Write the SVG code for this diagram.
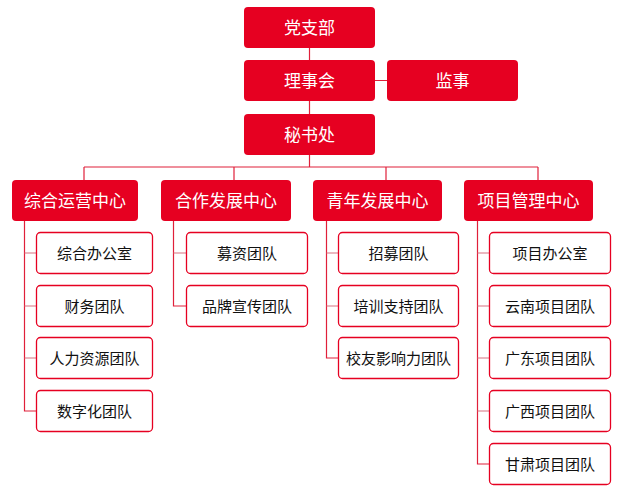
<svg xmlns="http://www.w3.org/2000/svg" width="621" height="496" viewBox="0 0 621 496">
<style>
.top{fill:#e60021}
.t{font-family:"Noto Sans CJK SC","Noto Sans",sans-serif;text-anchor:middle;dominant-baseline:central}
.tw{fill:#fff;font-size:17px}
.tb{fill:#111;font-size:15px}
.child{fill:#fff;stroke:#e60021;stroke-width:1.3}
.ln{stroke:#e0203a;stroke-width:1.2;fill:none}
.br{stroke:#d87080;stroke-width:1.2;fill:none}
</style>
<rect width="621" height="496" fill="#fff"/>
<g id="connectors">
<path class="ln" d="M309.5 48V60M309.5 101V114M309.5 155V167M375 80.5H387M84 167H538M84 167V180M234 167V180M386 167V180M538 167V180"/>
<path class="ln" d="M24.5 221V411H36M173.5 221V306H186M326.5 221V358H338M477.5 221V464H489"/>
<path class="br" d="M24.5 253H36M24.5 306H36M24.5 358H36M173.5 253H186M326.5 253H338M326.5 306H338M477.5 253H489M477.5 306H489M477.5 358H489M477.5 411H489"/>
</g>
<g id="n-dangzhibu"><rect class="top" x="244" y="7" width="131" height="41" rx="4"/><text class="t tw" x="309.5" y="26.5">党支部</text></g>
<g id="n-lishihui"><rect class="top" x="244" y="60" width="131" height="41" rx="4"/><text class="t tw" x="309.5" y="79.5">理事会</text></g>
<g id="n-jianshi"><rect class="top" x="387" y="60" width="131" height="41" rx="4"/><text class="t tw" x="452.5" y="79.5">监事</text></g>
<g id="n-mishuchu"><rect class="top" x="244" y="114" width="131" height="41" rx="4"/><text class="t tw" x="309.5" y="133.5">秘书处</text></g>
<g id="n-zonghe"><rect class="top" x="12" y="180" width="126" height="41" rx="4"/><text class="t tw" x="75" y="199.5">综合运营中心</text></g>
<g id="n-hezuo"><rect class="top" x="161" y="180" width="130" height="41" rx="4"/><text class="t tw" x="226" y="199.5">合作发展中心</text></g>
<g id="n-qingnian"><rect class="top" x="313" y="180" width="129" height="41" rx="4"/><text class="t tw" x="377.5" y="199.5">青年发展中心</text></g>
<g id="n-xiangmu"><rect class="top" x="464" y="180" width="129" height="41" rx="4"/><text class="t tw" x="528.5" y="199.5">项目管理中心</text></g>
<g id="c1"><rect class="child" x="36.5" y="232.5" width="116" height="41" rx="4"/><text class="t tb" x="94.5" y="252">综合办公室</text></g>
<g id="c2"><rect class="child" x="36.5" y="285.5" width="116" height="41" rx="4"/><text class="t tb" x="94.5" y="305">财务团队</text></g>
<g id="c3"><rect class="child" x="36.5" y="337.5" width="116" height="41" rx="4"/><text class="t tb" x="94.5" y="357">人力资源团队</text></g>
<g id="c4"><rect class="child" x="36.5" y="390.5" width="116" height="41" rx="4"/><text class="t tb" x="94.5" y="410">数字化团队</text></g>
<g id="c5"><rect class="child" x="186.5" y="232.5" width="121" height="41" rx="4"/><text class="t tb" x="247" y="252">募资团队</text></g>
<g id="c6"><rect class="child" x="186.5" y="285.5" width="121" height="41" rx="4"/><text class="t tb" x="247" y="305">品牌宣传团队</text></g>
<g id="c7"><rect class="child" x="338.5" y="232.5" width="120" height="41" rx="4"/><text class="t tb" x="398.5" y="252">招募团队</text></g>
<g id="c8"><rect class="child" x="338.5" y="285.5" width="120" height="41" rx="4"/><text class="t tb" x="398.5" y="305">培训支持团队</text></g>
<g id="c9"><rect class="child" x="338.5" y="337.5" width="120" height="41" rx="4"/><text class="t tb" x="398.5" y="357">校友影响力团队</text></g>
<g id="c10"><rect class="child" x="489.5" y="232.5" width="121" height="41" rx="4"/><text class="t tb" x="550" y="252">项目办公室</text></g>
<g id="c11"><rect class="child" x="489.5" y="285.5" width="121" height="41" rx="4"/><text class="t tb" x="550" y="305">云南项目团队</text></g>
<g id="c12"><rect class="child" x="489.5" y="337.5" width="121" height="41" rx="4"/><text class="t tb" x="550" y="357">广东项目团队</text></g>
<g id="c13"><rect class="child" x="489.5" y="390.5" width="121" height="41" rx="4"/><text class="t tb" x="550" y="410">广西项目团队</text></g>
<g id="c14"><rect class="child" x="489.5" y="443.5" width="121" height="41" rx="4"/><text class="t tb" x="550" y="463">甘肃项目团队</text></g>
</svg>
